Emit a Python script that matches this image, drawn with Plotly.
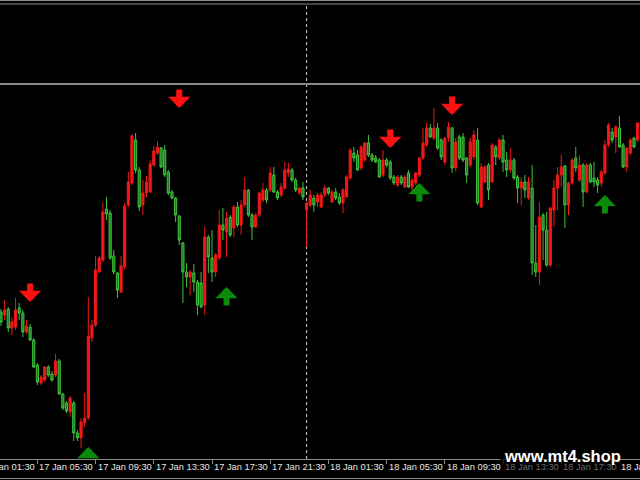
import plotly.graph_objects as go

# ---- data (M15 bars, price in arbitrary chart units) ----
opens = [188,185,191,172,173,192,187,168,173,160,135,117,120,133,126,125,139,106,97,88,
         97,67,62,77,82,162,175,228,240,291,287,244,227,208,233,295,317,360,330,295,
         307,308,335,347,
         352,350,328,308,302,284,257,228,223,227,218,217,195,263,242,228,242,275,268,283,
         272,293,275,295,310,285,273,285,300,310,310,325,308,305,312,327,330,320,307,312,
         290,295,302,298,
         293,305,312,298,308,303,297,303,322,347,345,332,340,357,345,342,340,325,340,338,
         323,315,323,313,327,313,317,325,342,355,372,362,372,360,338,362,372,332,363,363,
         342,335,343,360,
         293,318,335,318,353,342,360,340,330,340,323,312,318,302,312,237,228,285,270,235,
         290,312,325,334,295,317,342,320,335,308,335,322,320,317,327,355,368,363,372,355,
         333,347,362,360]
highs = [191,200,193,183,202,197,190,180,176,162,137,125,134,135,129,146,141,107,99,104,
         99,70,82,107,203,180,244,244,297,303,290,250,228,244,297,328,366,367,333,320,
         324,340,354,359,
         353,355,330,310,303,285,258,237,230,236,220,228,273,265,270,247,290,292,288,285,
         295,298,300,323,311,287,287,308,317,312,333,333,310,317,338,337,332,322,313,318,
         298,310,305,307,
         308,315,313,310,312,307,312,325,352,353,350,355,358,365,347,345,342,350,342,340,
         325,325,325,325,330,322,328,343,372,377,376,392,377,362,363,378,373,362,365,367,
         343,362,370,372,
         337,335,337,357,355,362,365,348,352,342,325,323,325,323,335,275,298,287,288,293,
         320,333,345,335,318,342,353,345,337,337,337,338,323,330,360,377,372,375,384,357,
         353,362,363,378]
lows = [174,180,168,165,170,180,163,166,159,132,115,115,118,123,118,123,105,90,87,83,
        59,59,52,73,80,158,173,227,238,280,240,226,202,207,230,293,315,327,289,285,
        303,307,333,345,
        332,323,305,301,278,255,197,213,205,208,185,192,185,227,218,223,240,260,243,263,
        263,273,265,293,283,260,272,283,298,297,308,307,300,303,310,323,318,308,305,300,
        253,293,288,293,
        292,303,305,297,300,295,287,302,320,338,329,330,338,343,338,337,322,323,333,320,
        315,313,315,312,312,310,315,323,340,353,362,360,350,340,335,358,327,328,340,338,
        317,333,340,295,
        292,317,300,317,335,340,328,323,327,320,297,295,302,300,225,223,215,240,233,233,
        273,290,313,272,285,315,328,318,293,307,317,313,307,313,325,353,357,347,352,332,
        328,345,352,358]
closes = [178,190,172,178,190,187,168,174,160,133,118,123,133,125,120,139,106,92,89,102,
          67,62,78,82,164,175,230,242,288,286,242,228,210,234,294,318,364,330,293,307,
          318,336,349,353,
          333,325,307,302,285,260,228,223,228,218,195,193,263,243,228,245,275,270,282,265,
          293,275,295,310,285,273,285,307,310,300,327,308,302,313,330,331,320,310,312,303,
          297,305,295,305,
          305,312,307,308,302,297,310,323,350,342,330,353,357,345,340,338,323,340,335,322,
          317,323,317,323,313,320,327,342,357,372,363,372,352,343,362,373,332,358,342,340,
          325,358,365,297,
          333,333,310,355,343,360,338,330,340,322,312,318,310,318,237,228,283,270,235,292,
          312,325,333,295,317,340,332,335,308,335,318,318,315,328,355,375,360,373,353,333,
          352,360,353,377]
bars = list(range(len(opens)))

# signal arrows (bar index, tip price)
sell_bars = [8, 49, 107, 124]
sell_tips = [198, 392, 352, 385]
buy_bars = [24, 62, 115, 166]
buy_tips = [53, 213, 317, 305]

# time axis labels
tick_bars = [-6, 10, 26, 42, 58, 74, 90, 106, 122, 138, 154, 170]
tick_labels = ["17 Jan 01:30", "17 Jan 05:30", "17 Jan 09:30", "17 Jan 13:30",
               "17 Jan 17:30", "17 Jan 21:30", "18 Jan 01:30", "18 Jan 05:30",
               "18 Jan 09:30", "18 Jan 13:30", "18 Jan 17:30", "18 Jan 21:30"]
day_separator_bar = 84
watermark = "www.mt4.shop"

# ---- layout constants ----
W, H = 640, 480
M_T, M_B = 84, 21
PLOT_H = H - M_T - M_B
X_RANGE = [-0.275, 175.65]
Y_RANGE = [41, 416]
px_per_unit = PLOT_H / (Y_RANGE[1] - Y_RANGE[0])

def xpaper(b):
    return (b - X_RANGE[0]) / (X_RANGE[1] - X_RANGE[0])

def ypaper_img(y_img):
    return (H - M_B - y_img) / PLOT_H

fig = go.Figure()
fig.add_trace(go.Candlestick(
    x=bars, open=opens, high=highs, low=lows, close=closes,
    increasing=dict(line=dict(color="#f01818", width=1), fillcolor="#f01818"),
    decreasing=dict(line=dict(color="#3ec43e", width=1), fillcolor="#1c7a1c"),
    whiskerwidth=0, showlegend=False, hoverinfo="skip",
))

annotations = []
for b, p in zip(sell_bars, sell_tips):
    tail = min(20, (Y_RANGE[1] - p) * px_per_unit)
    annotations.append(dict(x=b, y=p, xref="x", yref="y", text="", showarrow=True,
                            ax=0, ay=-tail, arrowhead=1, arrowsize=0.62, arrowwidth=6,
                            arrowcolor="#ff1010", standoff=0))
for b, p in zip(buy_bars, buy_tips):
    tail = min(20, (p - Y_RANGE[0]) * px_per_unit)
    annotations.append(dict(x=b, y=p, xref="x", yref="y", text="", showarrow=True,
                            ax=0, ay=tail, arrowhead=1, arrowsize=0.62, arrowwidth=6,
                            arrowcolor="#0a8c0a", standoff=0))

WM_X0, WM_X1 = 500, 620
for b, t in zip(tick_bars, tick_labels):
    px = xpaper(b) * W
    dim = WM_X0 - 5 <= px <= WM_X1 - 5
    annotations.append(dict(x=xpaper(b), y=ypaper_img(467), xref="paper", yref="paper",
                            text=t, showarrow=False, xanchor="left", yanchor="middle",
                            xshift=0,
                            font=dict(family="Liberation Sans", size=9.3,
                                      color="#6a6a6a" if dim else "#e6e6e6")))
annotations.append(dict(x=502 / W, y=ypaper_img(456), xref="paper", yref="paper",
                        text=watermark, showarrow=False, xanchor="left", yanchor="middle",
                        font=dict(family="Liberation Sans", size=16.5, weight="bold",
                                  color="#ffffff")))

shapes = [
    dict(type="line", xref="x", yref="paper", x0=day_separator_bar, x1=day_separator_bar,
         y0=0, y1=ypaper_img(4), line=dict(color="#d0d0d0", width=1, dash="dot"),
         layer="below"),
    dict(type="line", xref="paper", yref="paper", x0=0, x1=1, y0=1, y1=1,
         line=dict(color="#8a8a8a", width=2)),
    dict(type="line", xref="paper", yref="paper", x0=0, x1=1,
         y0=ypaper_img(4), y1=ypaper_img(4), line=dict(color="#8a8a8a", width=1)),
    dict(type="line", xref="paper", yref="paper", x0=0, x1=1,
         y0=ypaper_img(0.5), y1=ypaper_img(0.5), line=dict(color="#8a8a8a", width=1)),
    dict(type="line", xref="paper", yref="paper", x0=0, x1=1,
         y0=ypaper_img(478.5), y1=ypaper_img(478.5), line=dict(color="#8a8a8a", width=1)),
    dict(type="rect", xref="paper", yref="paper", x0=WM_X0 / W, x1=WM_X1 / W,
         y0=ypaper_img(478), y1=ypaper_img(446), fillcolor="#000000", opacity=0.75,
         line=dict(width=0), layer="above"),
]

fig.update_layout(
    width=W, height=H,
    margin=dict(l=0, r=0, t=M_T, b=M_B),
    paper_bgcolor="#000000", plot_bgcolor="#000000",
    boxgap=0.15,
    showlegend=False,
    xaxis=dict(range=X_RANGE, rangeslider=dict(visible=False), showgrid=False,
               zeroline=False, showline=True, linecolor="#8a8a8a", linewidth=1,
               tickmode="array", tickvals=tick_bars, ticktext=[""] * len(tick_bars),
               ticks="outside", ticklen=4, tickcolor="#8a8a8a", showticklabels=False),
    yaxis=dict(range=Y_RANGE, showgrid=False, zeroline=False, showticklabels=False,
               showline=False),
    annotations=annotations,
    shapes=shapes,
)

fig.write_html("out.html",
               config={"displayModeBar": False},
               post_script="document.body.style.margin='0';"
                           "document.body.style.overflow='hidden';"
                           "document.body.style.background='#000';")
